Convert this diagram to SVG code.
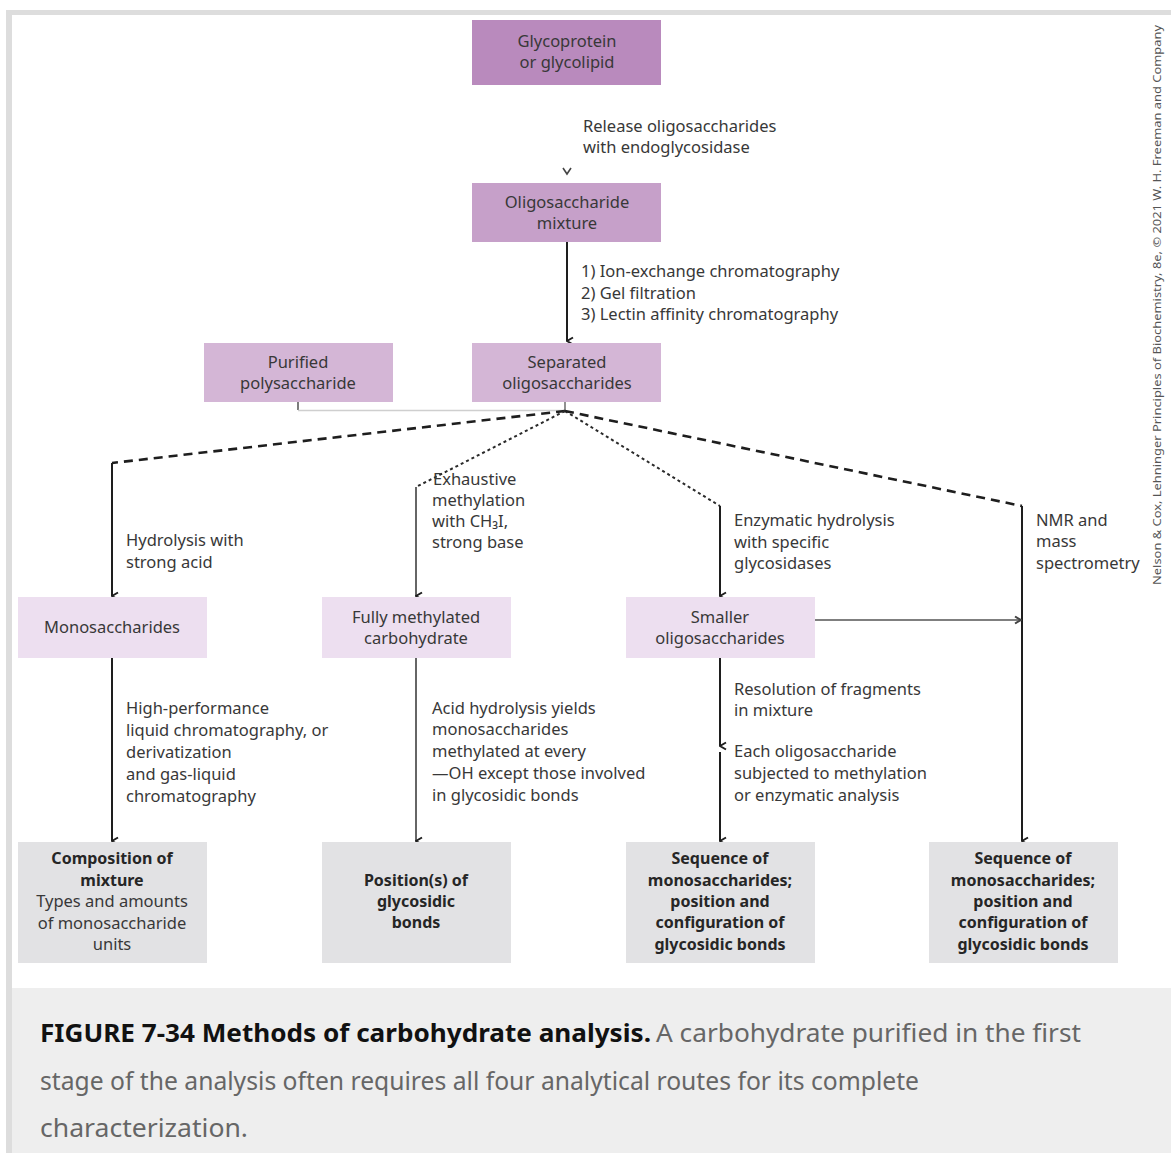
<svg xmlns="http://www.w3.org/2000/svg" width="1171" height="1153" viewBox="0 0 1171 1153">
  <style>
    .t { font-family: "Noto Sans", "Open Sans", sans-serif; font-size: 16.5px; fill: #383838; }
    .c { text-anchor: middle; }
    .b { font-weight: bold; fill: #262626; font-size: 16px; }
    .n1 { fill: #b98abd; }
    .n2 { fill: #c6a0c9; }
    .n3 { fill: #d4b6d6; }
    .n4 { fill: #eddff0; }
    .res { fill: #e2e2e4; }
    .solid { stroke: #1e1e1e; stroke-width: 2; fill: none; }
    .thin { stroke: #555; stroke-width: 1.3; fill: none; }
    .dash { stroke: #1e1e1e; stroke-width: 2.6; fill: none; stroke-dasharray: 9 6; }
    .dot { stroke: #2a2a2a; stroke-width: 2; fill: none; stroke-dasharray: 3 3; }
    .cap { font-family: "Noto Sans", "Open Sans", sans-serif; font-size: 25px; }
  </style>
  <defs>
    <marker id="arr" viewBox="0 0 10 10" refX="5" refY="9" markerWidth="10" markerHeight="10" orient="auto-start-reverse" markerUnits="userSpaceOnUse">
      <path d="M1.5,3 L5,9 L8.5,3" fill="none" stroke="#1e1e1e" stroke-width="2"/>
    </marker>
    <marker id="arrR" viewBox="0 0 10 10" refX="9" refY="5" markerWidth="10" markerHeight="10" orient="auto" markerUnits="userSpaceOnUse">
      <path d="M3,1.5 L9,5 L3,8.5" fill="none" stroke="#444" stroke-width="2"/>
    </marker>
  </defs>

  <!-- page frame -->
  <rect x="0" y="0" width="1171" height="1153" fill="#ffffff"/>
  <rect x="6" y="10" width="1165" height="5" fill="#dddddd"/>
  <rect x="6" y="10" width="6" height="1143" fill="#dddddd"/>

  <!-- connectors -->
  <g id="connectors">
    <!-- release step: arrowhead only -->
    <path d="M563,168 L567,174 L571,168" fill="none" stroke="#444" stroke-width="1.6"/>
    <line class="solid" x1="567" y1="242" x2="567" y2="341" marker-end="url(#arr)"/>
    <!-- purified polysaccharide joins the split point -->
    <line x1="298" y1="402" x2="298" y2="410" stroke="#444" stroke-width="1.4"/>
    <line x1="298" y1="410.5" x2="565" y2="410.5" stroke="#cfcfcf" stroke-width="1.5"/>
    <line class="thin" x1="565" y1="402" x2="565" y2="411"/>
    <!-- four routes -->
    <polyline class="dash" points="565,411 112,463"/>
    <polyline class="dot" points="565,411 416,487"/>
    <polyline class="dot" points="565,411 720,506"/>
    <polyline class="dash" points="565,411 1022,506"/>
    <line class="solid" x1="112" y1="463" x2="112" y2="596" marker-end="url(#arr)"/>
    <line x1="416" y1="487" x2="416" y2="596" stroke="#333" stroke-width="1.5" marker-end="url(#arr)"/>
    <line class="solid" x1="720" y1="506" x2="720" y2="596" marker-end="url(#arr)"/>
    <line class="solid" x1="1022" y1="506" x2="1022" y2="841" stroke-width="1.8" marker-end="url(#arr)"/>
    <!-- second stage -->
    <line class="solid" x1="112" y1="658" x2="112" y2="841" marker-end="url(#arr)"/>
    <line x1="416" y1="658" x2="416" y2="841" stroke="#333" stroke-width="1.5" marker-end="url(#arr)"/>
    <line class="solid" x1="720" y1="658" x2="720" y2="746" marker-end="url(#arr)"/>
    <line class="solid" x1="720" y1="752" x2="720" y2="841" marker-end="url(#arr)"/>
    <line class="thin" x1="815" y1="620" x2="1021" y2="620" marker-end="url(#arrR)"/>
  </g>

  <!-- step labels -->
  <g id="labels">
    <text class="t"><tspan x="583" y="132">Release oligosaccharides</tspan><tspan x="583" y="153">with endoglycosidase</tspan></text>
    <text class="t"><tspan x="581" y="277">1) Ion-exchange chromatography</tspan><tspan x="581" y="299">2) Gel filtration</tspan><tspan x="581" y="320">3) Lectin affinity chromatography</tspan></text>
    <text class="t"><tspan x="126" y="546">Hydrolysis with</tspan><tspan x="126" y="568">strong acid</tspan></text>
    <text class="t"><tspan x="433" y="485">Exhaustive</tspan><tspan x="432" y="506">methylation</tspan><tspan x="432" y="527">with CH₃I,</tspan><tspan x="432" y="548">strong base</tspan></text>
    <text class="t"><tspan x="734" y="526">Enzymatic hydrolysis</tspan><tspan x="734" y="548">with specific</tspan><tspan x="734" y="569">glycosidases</tspan></text>
    <text class="t"><tspan x="1036" y="526">NMR and</tspan><tspan x="1036" y="547">mass</tspan><tspan x="1036" y="569">spectrometry</tspan></text>
    <text class="t"><tspan x="126" y="714">High-performance</tspan><tspan x="126" y="736">liquid chromatography, or</tspan><tspan x="126" y="758">derivatization</tspan><tspan x="126" y="780">and gas-liquid</tspan><tspan x="126" y="802">chromatography</tspan></text>
    <text class="t"><tspan x="432" y="714">Acid hydrolysis yields</tspan><tspan x="432" y="735">monosaccharides</tspan><tspan x="432" y="757">methylated at every</tspan><tspan x="432" y="779">—OH except those involved</tspan><tspan x="432" y="801">in glycosidic bonds</tspan></text>
    <text class="t"><tspan x="734" y="695">Resolution of fragments</tspan><tspan x="734" y="716">in mixture</tspan></text>
    <text class="t"><tspan x="734" y="757">Each oligosaccharide</tspan><tspan x="734" y="779">subjected to methylation</tspan><tspan x="734" y="801">or enzymatic analysis</tspan></text>
  </g>

  <!-- nodes -->
  <g id="glycoprotein">
    <rect class="n1" x="472" y="20" width="189" height="65"/>
    <text class="t c"><tspan x="567" y="47">Glycoprotein</tspan><tspan x="567" y="68">or glycolipid</tspan></text>
  </g>
  <g id="oligo-mixture">
    <rect class="n2" x="472" y="183" width="189" height="59"/>
    <text class="t c"><tspan x="567" y="208">Oligosaccharide</tspan><tspan x="567" y="229">mixture</tspan></text>
  </g>
  <g id="purified">
    <rect class="n3" x="204" y="343" width="189" height="59"/>
    <text class="t c"><tspan x="298" y="368">Purified</tspan><tspan x="298" y="389">polysaccharide</tspan></text>
  </g>
  <g id="separated">
    <rect class="n3" x="472" y="343" width="189" height="59"/>
    <text class="t c"><tspan x="567" y="368">Separated</tspan><tspan x="567" y="389">oligosaccharides</tspan></text>
  </g>
  <g id="monosaccharides">
    <rect class="n4" x="18" y="597" width="189" height="61"/>
    <text class="t c" x="112" y="633">Monosaccharides</text>
  </g>
  <g id="methylated">
    <rect class="n4" x="322" y="597" width="189" height="61"/>
    <text class="t c"><tspan x="416" y="623">Fully methylated</tspan><tspan x="416" y="644">carbohydrate</tspan></text>
  </g>
  <g id="smaller">
    <rect class="n4" x="626" y="597" width="189" height="61"/>
    <text class="t c"><tspan x="720" y="623">Smaller</tspan><tspan x="720" y="644">oligosaccharides</tspan></text>
  </g>
  <g id="composition">
    <rect class="res" x="18" y="842" width="189" height="121"/>
    <text class="t c"><tspan class="b" x="112" y="864">Composition of</tspan><tspan class="b" x="112" y="886">mixture</tspan><tspan x="112" y="907">Types and amounts</tspan><tspan x="112" y="929">of monosaccharide</tspan><tspan x="112" y="950">units</tspan></text>
  </g>
  <g id="positions">
    <rect class="res" x="322" y="842" width="189" height="121"/>
    <text class="t c b"><tspan x="416" y="886">Position(s) of</tspan><tspan x="416" y="907">glycosidic</tspan><tspan x="416" y="928">bonds</tspan></text>
  </g>
  <g id="sequence-a">
    <rect class="res" x="626" y="842" width="189" height="121"/>
    <text class="t c b"><tspan x="720" y="864">Sequence of</tspan><tspan x="720" y="886">monosaccharides;</tspan><tspan x="720" y="907">position and</tspan><tspan x="720" y="928">configuration of</tspan><tspan x="720" y="950">glycosidic bonds</tspan></text>
  </g>
  <g id="sequence-b">
    <rect class="res" x="929" y="842" width="189" height="121"/>
    <text class="t c b"><tspan x="1023" y="864">Sequence of</tspan><tspan x="1023" y="886">monosaccharides;</tspan><tspan x="1023" y="907">position and</tspan><tspan x="1023" y="928">configuration of</tspan><tspan x="1023" y="950">glycosidic bonds</tspan></text>
  </g>

  <!-- credit line -->
  <text transform="translate(1161,305) rotate(-90)" text-anchor="middle" font-family="Noto Sans, sans-serif" font-size="10.5" fill="#555" textLength="560" lengthAdjust="spacingAndGlyphs">Nelson &amp; Cox, Lehninger Principles of Biochemistry, 8e, © 2021 W. H. Freeman and Company</text>

  <!-- caption -->
  <rect x="12" y="988" width="1159" height="165" fill="#eeeeee"/>
  <text class="cap" x="40" y="1042" font-weight="bold" fill="#111" textLength="611" lengthAdjust="spacingAndGlyphs">FIGURE 7-34 Methods of carbohydrate analysis.</text>
  <text class="cap" x="656" y="1042" fill="#666" textLength="425" lengthAdjust="spacingAndGlyphs">A carbohydrate purified in the first</text>
  <text class="cap" x="40" y="1090" fill="#666" textLength="879" lengthAdjust="spacingAndGlyphs">stage of the analysis often requires all four analytical routes for its complete</text>
  <text class="cap" x="40" y="1137" fill="#666" textLength="208" lengthAdjust="spacingAndGlyphs">characterization.</text>
</svg>
